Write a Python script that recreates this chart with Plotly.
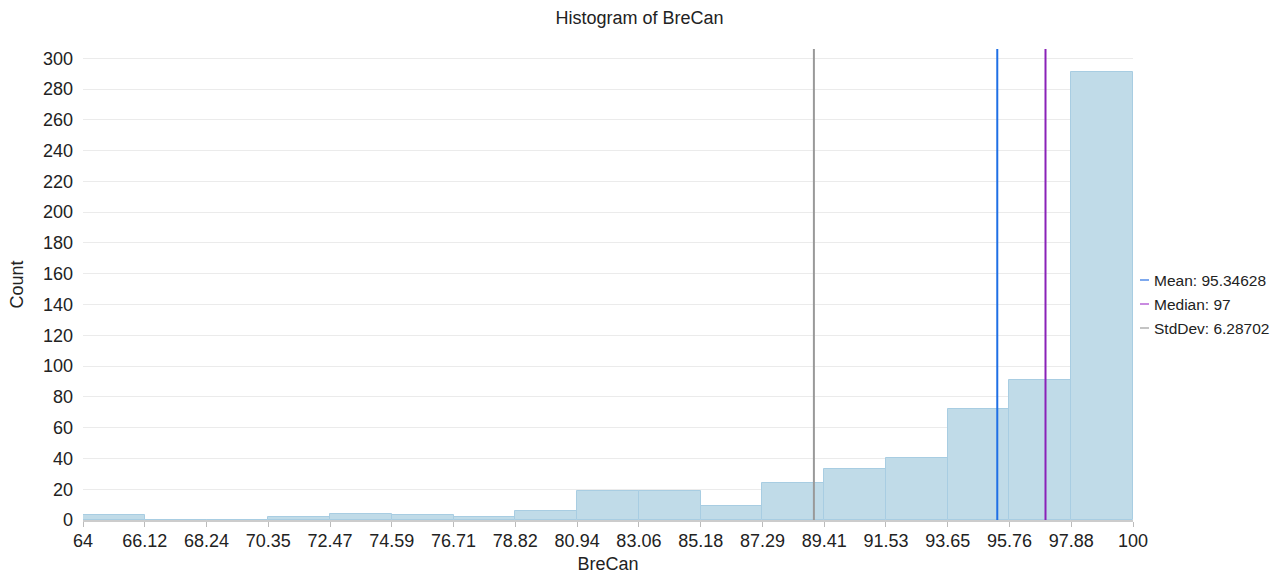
import numpy as np
import plotly.graph_objects as go

# Histogram of BreCan: 17 equal-width bins between 64 and 100
bin_start = 64
bin_end = 100
counts = [3, 0, 0, 2, 4, 3, 2, 6, 19, 19, 9, 24, 33, 40, 72, 91, 291]
tick_labels = ["64", "66.12", "68.24", "70.35", "72.47", "74.59", "76.71", "78.82",
               "80.94", "83.06", "85.18", "87.29", "89.41", "91.53", "93.65",
               "95.76", "97.88", "100"]

mean_val = 95.34628
median_val = 97
std_val = 6.28702

edges = np.linspace(bin_start, bin_end, len(counts) + 1)
centers = (edges[:-1] + edges[1:]) / 2
width = edges[1] - edges[0]

FONT = "Liberation Sans, Arial, sans-serif"
TXT = "#222222"

fig = go.Figure()
fig.add_trace(go.Bar(
    x=centers, y=counts, width=width,
    marker=dict(color="#c0dbe8", line=dict(color="#a8cde2", width=1)),
    showlegend=False, hoverinfo="x+y",
))

# reference lines: mean, median and mean minus one standard deviation
stat_lines = [
    (mean_val, "#1f6fe5", "#7ea9ee", f"Mean: {mean_val}"),
    (median_val, "#8a22b8", "#c98be0", f"Median: {median_val}"),
    (mean_val - std_val, "#999999", "#c4c4c4", f"StdDev: {std_val}"),
]
shapes = []
annotations = []
for i, (xv, col, legcol, label) in enumerate(stat_lines):
    shapes.append(dict(type="line", xref="x", yref="paper", x0=xv, x1=xv, y0=0, y1=1,
                       line=dict(color=col, width=2), layer="above"))
    # legend entry: short line glyph plus label
    ly = 280 + 24 * i
    yp = 1 - (ly - 49) / (520 - 49)
    shapes.append(dict(type="line", xref="paper", yref="paper",
                       x0=1 + (1140 - 1133) / 1050, x1=1 + (1149 - 1133) / 1050,
                       y0=yp, y1=yp, line=dict(color=legcol, width=2)))
    annotations.append(dict(xref="paper", yref="paper", x=1 + (1152 - 1133) / 1050, y=yp,
                            xanchor="left", yanchor="middle", showarrow=False,
                            text=label, font=dict(size=15.5, color=TXT, family=FONT)))

fig.update_layout(
    width=1279, height=575,
    margin=dict(l=83, r=146, t=49, b=55),
    paper_bgcolor="white", plot_bgcolor="white",
    font=dict(family=FONT, color=TXT, size=18),
    title=dict(text="Histogram of BreCan", x=0.5, xref="container", xanchor="center",
               y=1 - 18 / 575, yanchor="middle", font=dict(size=18, color=TXT)),
    bargap=0,
    shapes=shapes,
    annotations=annotations,
    xaxis=dict(
        range=[bin_start, bin_end], automargin=False,
        tickmode="array", tickvals=list(edges), ticktext=tick_labels,
        ticks="outside", ticklen=5, tickcolor="#bbbbbb",
        ticklabelstandoff=-2,
        showline=True, linecolor="#cccccc", linewidth=2, layer="below traces",
        showgrid=False, zeroline=False,
        title=dict(text="BreCan", standoff=8, font=dict(size=18)),
        tickfont=dict(size=18),
    ),
    yaxis=dict(
        range=[0, 306], tickmode="linear", tick0=0, dtick=20, automargin=False,
        showgrid=True, gridcolor="#ebebeb", gridwidth=1,
        zeroline=False, showline=False, ticks="",
        ticklabelstandoff=9,
        title=dict(text="Count", standoff=14, font=dict(size=18)),
        tickfont=dict(size=18),
    ),
)

fig.write_html("out.html")
